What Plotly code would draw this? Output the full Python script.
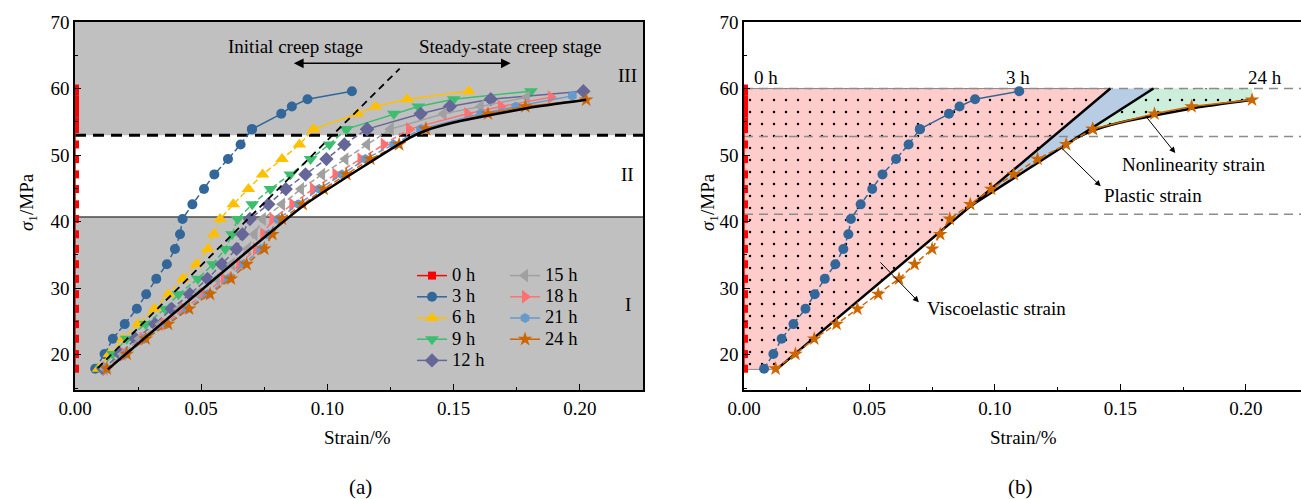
import plotly.graph_objects as go

W, H = 1301, 499
FONT = "Liberation Serif"

# ---------------- data ----------------
STRESS_0H = [17.9, 20.1, 22.4, 24.6, 26.9, 29.1, 31.4, 33.6, 35.9, 38.1, 40.4, 42.6, 44.9,
             47.1, 49.4, 51.6, 53.9, 55.0, 56.2, 57.3, 58.4, 59.6, 60.0]
STRAIN_0H = [0.0 for _ in STRESS_0H]

STRESS_21 = [17.9, 20.1, 22.4, 24.6, 26.9, 29.1, 31.4, 33.6, 35.9, 38.1, 40.4, 42.6, 44.9,
             47.1, 49.4, 51.6, 53.9, 56.2, 57.3, 58.4, 59.6]

STRAIN_3H = [0.0080, 0.0117, 0.0150, 0.0197, 0.0245, 0.0282, 0.0322, 0.0364, 0.0396, 0.0416, 0.0426,
             0.0465, 0.0511, 0.0552, 0.0606, 0.0656, 0.0701, 0.0817, 0.0859, 0.0921, 0.1097]
STRAIN_6H = [0.0093, 0.0136, 0.0190, 0.0250, 0.0315, 0.0370, 0.0427, 0.0480, 0.0526, 0.0550, 0.0575,
             0.0627, 0.0687, 0.0743, 0.0820, 0.0889, 0.0945, 0.1120, 0.1190, 0.1316, 0.1560]
STRAIN_9H = [0.0105, 0.0150, 0.0205, 0.0280, 0.0357, 0.0410, 0.0487, 0.0546, 0.0595, 0.0622, 0.0644,
             0.0702, 0.0774, 0.0853, 0.0933, 0.1008, 0.1075, 0.1263, 0.1360, 0.1500, 0.1806]
STRAIN_12H = [0.0112, 0.0179, 0.0239, 0.0317, 0.0383, 0.0455, 0.0525, 0.0582, 0.0640, 0.0663, 0.0693,
              0.0766, 0.0835, 0.0913, 0.0996, 0.1067, 0.1157, 0.1369, 0.1485, 0.1647, 0.2014]

STRESS_15H = [17.9, 20.1, 22.4, 24.6, 26.9, 29.1, 31.4, 33.6, 35.9, 38.1, 40.4, 42.6, 44.9,
              47.1, 49.4, 51.6, 53.9, 56.2, 57.3, 58.7]
STRAIN_15H = [0.0118, 0.0189, 0.0255, 0.0338, 0.0411, 0.0487, 0.0562, 0.0621, 0.0684, 0.0711, 0.0744,
              0.0820, 0.0895, 0.0979, 0.1071, 0.1157, 0.1250, 0.1460, 0.1607, 0.1790]
STRESS_18H = [17.9, 20.1, 22.4, 24.6, 26.9, 29.1, 31.4, 33.6, 35.9, 38.1, 40.4, 42.6, 44.9,
              47.1, 49.4, 51.6, 53.9, 56.2, 57.3, 58.7]
STRAIN_18H = [0.0122, 0.0197, 0.0268, 0.0353, 0.0431, 0.0511, 0.0590, 0.0651, 0.0717, 0.0746, 0.0782,
              0.0861, 0.0943, 0.1032, 0.1131, 0.1223, 0.1323, 0.1554, 0.1687, 0.1885]
STRESS_21H = [17.9, 20.1, 22.4, 24.6, 26.9, 29.1, 31.4, 33.6, 35.9, 38.1, 40.4, 42.6, 44.9,
              47.1, 49.4, 51.6, 53.9, 56.2, 57.3, 58.9]
STRAIN_21H = [0.0124, 0.0202, 0.0275, 0.0363, 0.0444, 0.0525, 0.0607, 0.0668, 0.0737, 0.0768, 0.0805,
              0.0886, 0.0967, 0.1058, 0.1150, 0.1262, 0.1370, 0.1607, 0.1746, 0.1970]
STRESS_24H = [17.9, 20.1, 22.4, 24.6, 26.9, 29.1, 31.4, 33.6, 35.9, 38.1, 40.4, 42.6, 44.9,
              47.1, 49.4, 51.6, 53.9, 56.2, 57.3, 58.3]
STRAIN_24H = [0.0126, 0.0205, 0.0280, 0.0369, 0.0452, 0.0535, 0.0618, 0.0680, 0.0750, 0.0782, 0.0820,
              0.0902, 0.0985, 0.1075, 0.1170, 0.1284, 0.1390, 0.1636, 0.1784, 0.2025]

# reference (fitted) curve, creep-stage divider
FIT_X = [0.013, 0.0905, 0.1325, 0.139, 0.150, 0.164, 0.180, 0.2025]
FIT_Y = [17.8, 42.4, 52.6, 53.7, 54.9, 56.0, 57.1, 58.3]
DIV_X = [0.009, 0.1286]
DIV_Y = [18.0, 63.0]
STAGE_Y = [40.7, 53.0]          # stage boundaries (panel a)
GUIDE_Y = [60.0, 52.8, 41.1]    # guide lines (panel b)

# panel b strain components
VE_X = [0.013, 0.146]           # viscoelastic boundary
VE_Y = [17.8, 60.0]
PL_X = [0.0905, 0.1632]         # plastic boundary
PL_Y = [42.4, 60.0]
NL_X = [0.1325, 0.139, 0.150, 0.164, 0.180, 0.2025]   # nonlinear curve
NL_Y = [52.6, 53.7, 54.9, 56.0, 57.1, 58.3]
TOP_STRESS = 60.0

SERIES = [
    ("0 h", STRAIN_0H, STRESS_0H, "#FF0000", "square", 8),
    ("3 h", STRAIN_3H, STRESS_21, "#336699", "circle", 10),
    ("6 h", STRAIN_6H, STRESS_21, "#FFC000", "triangle-up", 12),
    ("9 h", STRAIN_9H, STRESS_21, "#3DBE6E", "triangle-down", 12),
    ("12 h", STRAIN_12H, STRESS_21, "#666699", "diamond", 11),
    ("15 h", STRAIN_15H, STRESS_15H, "#A0A0A0", "triangle-left", 12),
    ("18 h", STRAIN_18H, STRESS_18H, "#FF7070", "triangle-right", 12),
    ("21 h", STRAIN_21H, STRESS_21H, "#6699CC", "hexagon", 10),
    ("24 h", STRAIN_24H, STRESS_24H, "#CC6600", "star", 11),
]

# ---------------- layout helpers ----------------
def px(x):
    return x / W

def py(y):
    return 1 - y / H

XA = [px(75), px(643)]
XB = [px(744), 1.0]
YD = [py(390), py(22)]
YR = [14.7, 70]

LEG_FS = 14     # legend row-height driver
LEG_TXT = 18.5  # legend visible text size

fig = go.Figure()


def add_series(name, xs, ys, color, symbol, size, xa, ya, legend, showlegend=True):
    label = f'<span style="font-size:{LEG_TXT}px">{name}</span>'
    split = next((i for i, v in enumerate(ys) if v > 53.0), len(ys))
    if name == "0 h":
        fig.add_trace(go.Scatter(x=xs, y=ys, mode="lines+markers", name=label, xaxis=xa, yaxis=ya,
                                 line=dict(color=color, width=1.5),
                                 marker=dict(symbol=symbol, size=size, color=color),
                                 legend=legend, showlegend=showlegend))
        return
    fig.add_trace(go.Scatter(x=xs[:split + 1], y=ys[:split + 1], mode="lines+markers", xaxis=xa, yaxis=ya,
                             line=dict(color=color, width=1.5, dash="6px,3px"),
                             marker=dict(symbol=symbol, size=size, color=color),
                             showlegend=False, hoverinfo="skip"))
    fig.add_trace(go.Scatter(x=xs[split:], y=ys[split:], mode="lines+markers", name=label, xaxis=xa, yaxis=ya,
                             line=dict(color=color, width=1.5),
                             marker=dict(symbol=symbol, size=size, color=color),
                             legend=legend, showlegend=showlegend))


# ---------------- panel (a) ----------------
shapes = []
shapes.append(dict(type="rect", xref="x", yref="y", x0=0, x1=0.225, y0=YR[0], y1=STAGE_Y[0],
                   fillcolor="#C0C0C0", line=dict(width=0), layer="below"))
shapes.append(dict(type="rect", xref="x", yref="y", x0=0, x1=0.225, y0=STAGE_Y[1], y1=YR[1],
                   fillcolor="#C0C0C0", line=dict(width=0), layer="below"))
shapes.append(dict(type="line", xref="x", yref="y", x0=0, x1=0.225, y0=STAGE_Y[0], y1=STAGE_Y[0],
                   line=dict(color="black", width=1), layer="below"))
shapes.append(dict(type="line", xref="x", yref="y", x0=0, x1=0.225, y0=STAGE_Y[1], y1=STAGE_Y[1],
                   line=dict(color="black", width=3, dash="11px,7px"), layer="below"))

for i, (name, xs, ys, color, symbol, size) in enumerate(SERIES):
    add_series(name, xs, ys, color, symbol, size, "x", "y", "legend" if i < 5 else "legend2")

fig.add_trace(go.Scatter(x=DIV_X, y=DIV_Y, mode="lines", xaxis="x", yaxis="y",
                         line=dict(color="black", width=1.8, dash="7px,5px"), showlegend=False))
fig.add_trace(go.Scatter(x=FIT_X, y=FIT_Y, mode="lines", xaxis="x", yaxis="y",
                         line=dict(color="black", width=2.5, shape="spline", smoothing=0.4),
                         showlegend=False))

# ---------------- panel (b) ----------------
pattern = dict(shape=".", fgcolor="black", size=12, solidity=0.035)
fig.add_trace(go.Scatter(x=[0, VE_X[0], VE_X[1], 0], y=[VE_Y[0], VE_Y[0], VE_Y[1], TOP_STRESS],
                         fill="toself", mode="lines", line=dict(color="#888888", width=1),
                         fillcolor="#FFCCCC", fillpattern=dict(bgcolor="#FFCCCC", **pattern),
                         xaxis="x2", yaxis="y2", showlegend=False, hoverinfo="skip"))
fig.add_trace(go.Scatter(x=[PL_X[0], VE_X[1], PL_X[1], PL_X[0]], y=[PL_Y[0], TOP_STRESS, PL_Y[1], PL_Y[0]],
                         fill="toself", mode="lines", line=dict(width=0),
                         fillcolor="#B8CCE4", xaxis="x2", yaxis="y2", showlegend=False, hoverinfo="skip"))
nl_poly_x = [NL_X[0], PL_X[1], NL_X[-1]] + NL_X[::-1]
nl_poly_y = [NL_Y[0], PL_Y[1], TOP_STRESS] + NL_Y[::-1]
fig.add_trace(go.Scatter(x=nl_poly_x, y=nl_poly_y, fill="toself", mode="lines", line=dict(width=0),
                         fillcolor="#CCEEDB", fillpattern=dict(bgcolor="#CCEEDB", **pattern),
                         xaxis="x2", yaxis="y2", showlegend=False, hoverinfo="skip"))
for gy in GUIDE_Y:
    fig.add_trace(go.Scatter(x=[0, 0.225], y=[gy, gy], mode="lines", xaxis="x2", yaxis="y2",
                             line=dict(color="#8C8C8C", width=1.5, dash="9px,6px"),
                             showlegend=False, hoverinfo="skip"))
for xs, ys in [(VE_X, VE_Y), (PL_X, PL_Y), (NL_X, NL_Y)]:
    fig.add_trace(go.Scatter(x=xs, y=ys, mode="lines", xaxis="x2", yaxis="y2",
                             line=dict(color="black", width=2.5, shape="spline", smoothing=0.4),
                             showlegend=False, hoverinfo="skip"))
for i in (0, 1, 8):
    name, xs, ys, color, symbol, size = SERIES[i]
    add_series(name, xs, ys, color, symbol, size, "x2", "y2", None, showlegend=False)

# ---------------- axes ----------------
axis_common = dict(showline=True, linecolor="black", linewidth=1.5, mirror=True, ticks="inside",
                   ticklen=6, tickwidth=1, tickcolor="black", showgrid=False, zeroline=False,
                   automargin=False,
                   tickfont=dict(family=FONT, size=19, color="black"))
xcommon = dict(axis_common, dtick=0.05, tick0=0, tickformat=".2f",
               minor=dict(ticks="inside", ticklen=3, dtick=0.025, tickcolor="black"))
ycommon = dict(axis_common, dtick=10, tick0=0, range=YR,
               minor=dict(ticks="inside", ticklen=3, dtick=5, tickcolor="black"))

legend_common = dict(xanchor="left", yanchor="top", bgcolor="rgba(0,0,0,0)",
                     font=dict(family=FONT, size=LEG_FS, color="black"), tracegroupgap=0,
                     itemwidth=30)
fig.update_layout(
    template="none",
    width=W, height=H, margin=dict(l=0, r=0, t=0, b=0, autoexpand=False),
    paper_bgcolor="white", plot_bgcolor="white",
    font=dict(family=FONT, color="black"),
    xaxis=dict(xcommon, domain=XA, range=[0, 0.225], anchor="y"),
    yaxis=dict(ycommon, domain=YD, anchor="x"),
    xaxis2=dict(xcommon, domain=XB, range=[0, 0.222], anchor="y2"),
    yaxis2=dict(ycommon, domain=YD, anchor="x2"),
    shapes=shapes,
    legend=dict(legend_common, x=px(412), y=py(260)),
    legend2=dict(legend_common, x=px(505), y=py(260)),
    showlegend=True,
)

ann = []
tf = dict(family=FONT, size=19, color="black")


def paper_text(text, cx, cy, size=19, angle=0):
    ann.append(dict(text=text, x=px(cx), y=py(cy), xref="paper", yref="paper", showarrow=False,
                    xanchor="center", yanchor="middle", textangle=angle,
                    font=dict(family=FONT, size=size, color="black")))


def data_text(text, x, y, xr, yr, xanchor="center"):
    ann.append(dict(text=text, x=x, y=y, xref=xr, yref=yr, showarrow=False,
                    xanchor=xanchor, yanchor="middle", font=tf))


for cx in (357, 1023):
    paper_text("Strain/%", cx, 437)
paper_text("(a)", 360, 487, size=21)
paper_text("(b)", 1020, 487, size=21)
for cx in (28, 709):
    paper_text("<i>σ</i><sub>1</sub>/MPa", cx, 202, angle=-90)

for t, yy in [("III", 62.0), ("II", 47.1), ("I", 27.6)]:
    data_text(t, 0.219, yy, "x", "y")
data_text("Initial creep stage", 0.0873, 66.3, "x", "y")
data_text("Steady-state creep stage", 0.1726, 66.3, "x", "y")
ann.append(dict(text="", x=0.1726, y=63.8, ax=0.0861, ay=63.8, xref="x", yref="y", axref="x", ayref="y",
                showarrow=True, arrowhead=2, arrowside="end+start", arrowsize=1.3, arrowwidth=1.5,
                arrowcolor="black"))

for t, yy in [("III", 65.0), ("II", 47.1), ("I", 27.3)]:
    data_text(t, 0.2222, yy, "x2", "y2", xanchor="right")
data_text("0 h", 0.003, 61.7, "x2", "y2", xanchor="left")
data_text("3 h", 0.1092, 61.7, "x2", "y2")
data_text("24 h", 0.2076, 61.7, "x2", "y2")
data_text("Nonlinearity strain", 0.1793, 48.6, "x2", "y2")
data_text("Plastic strain", 0.1632, 43.9, "x2", "y2")
data_text("Viscoelastic strain", 0.1008, 26.9, "x2", "y2")
for hx, hy, tx, ty in [(0.1719, 50.3, 0.1596, 56.1), (0.1422, 45.3, 0.1262, 51.2), (0.0697, 27.9, 0.0538, 34.1)]:
    ann.append(dict(text="", x=hx, y=hy, ax=tx, ay=ty, xref="x2", yref="y2", axref="x2", ayref="y2",
                    showarrow=True, arrowhead=2, arrowsize=1.2, arrowwidth=1, arrowcolor="black"))

fig.update_layout(annotations=ann)
fig.write_html("out.html")
